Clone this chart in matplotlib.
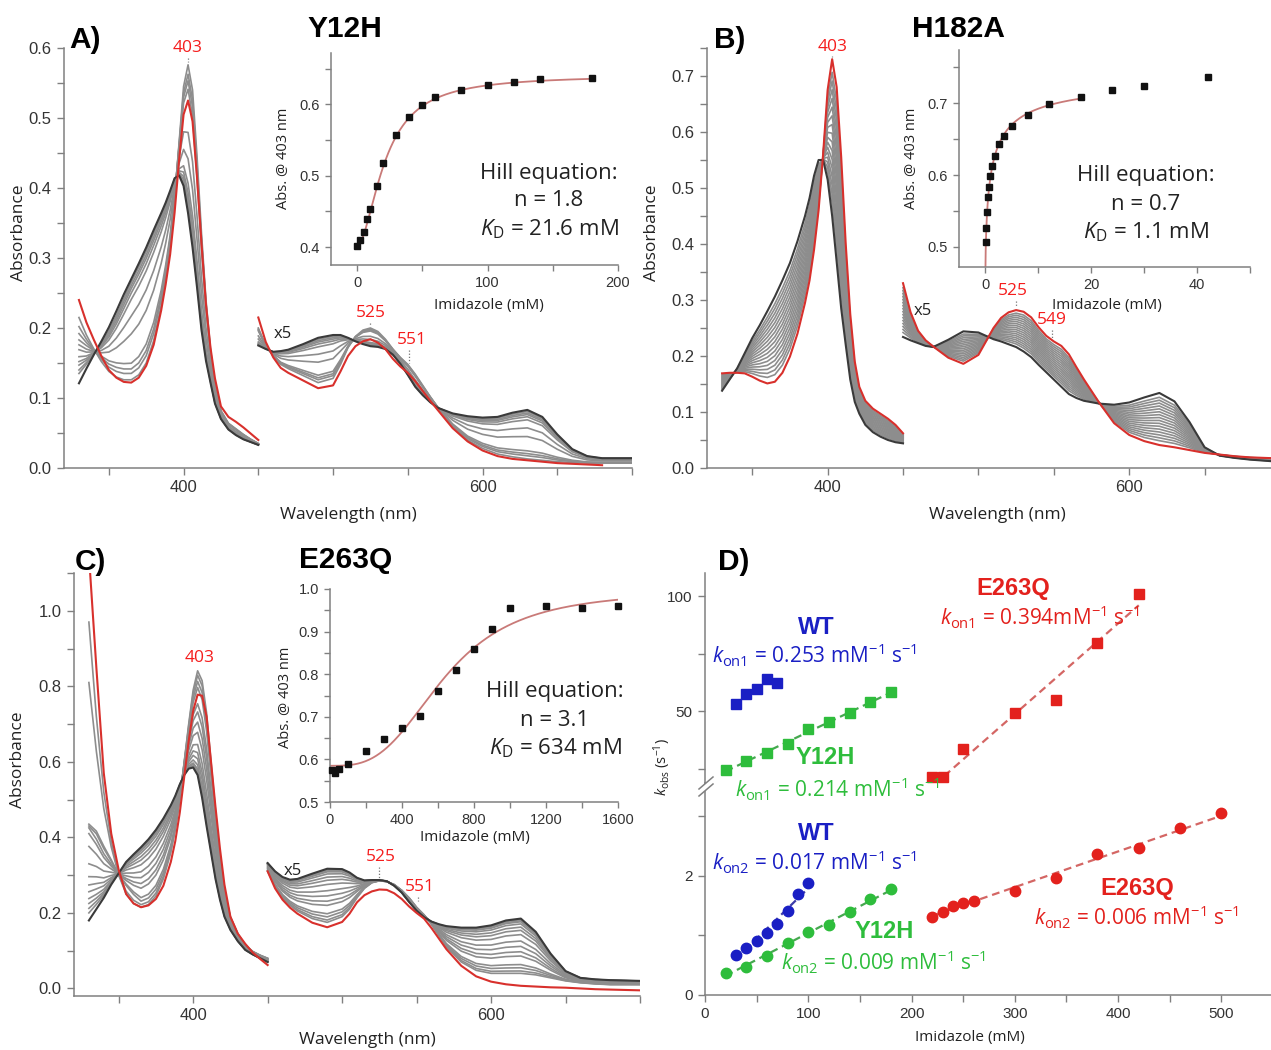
import numpy as np
import matplotlib
matplotlib.use("Agg")
import matplotlib.pyplot as plt
from matplotlib.ticker import MultipleLocator, FixedLocator, FormatStrFormatter
from matplotlib.lines import Line2D
from matplotlib.patches import Polygon

plt.rcParams.update({
    "font.family": ["Liberation Sans", "DejaVu Sans"],
    "mathtext.fontset": "custom",
    "mathtext.rm": "Open Sans",
    "mathtext.it": "Open Sans:italic",
    "mathtext.bf": "Open Sans:bold",
})
TXT_FONT = ["Open Sans", "DejaVu Sans"]
BOLD_FONT = ["Liberation Sans", "DejaVu Sans"]

# ------------------------------------------------------------------ spectra
wl_soret = [330, 335, 340, 345, 350, 355, 360, 365, 370, 375, 380, 385, 388, 391,
            394, 397, 400, 403, 406, 409, 412, 415, 418, 421, 425, 430, 435, 440, 445, 450]
wl_vis = [450, 455, 460, 465, 470, 480, 490, 500, 505, 510, 515, 520, 525, 530, 535,
          540, 545, 550, 555, 560, 565, 570, 580, 590, 600, 610, 620, 630, 640, 650,
          660, 670, 680, 690, 700]

# Y12H
A_black_soret = [0.121, 0.142, 0.162, 0.181, 0.201, 0.224, 0.248, 0.270, 0.292, 0.315,
                 0.340, 0.364, 0.379, 0.396, 0.414, 0.418, 0.403, 0.364, 0.315, 0.258,
                 0.197, 0.153, 0.122, 0.092, 0.070, 0.055, 0.047, 0.041, 0.037, 0.033]
A_top_soret = [0.215, 0.190, 0.170, 0.152, 0.138, 0.130, 0.126, 0.126, 0.133, 0.150,
               0.182, 0.232, 0.272, 0.320, 0.385, 0.465, 0.545, 0.576, 0.540, 0.445,
               0.335, 0.240, 0.170, 0.118, 0.082, 0.064, 0.056, 0.048, 0.041, 0.035]
A_red_soret = [0.240, 0.208, 0.183, 0.160, 0.140, 0.129, 0.123, 0.122, 0.129, 0.146,
               0.176, 0.225, 0.262, 0.305, 0.365, 0.440, 0.505, 0.525, 0.495, 0.415,
               0.320, 0.233, 0.172, 0.128, 0.088, 0.073, 0.066, 0.058, 0.049, 0.040]
A_black_vis = [0.175, 0.170, 0.166, 0.167, 0.169, 0.177, 0.186, 0.190, 0.190, 0.186,
               0.181, 0.177, 0.174, 0.173, 0.170, 0.162, 0.149, 0.133, 0.116, 0.104,
               0.094, 0.086, 0.078, 0.074, 0.072, 0.073, 0.079, 0.083, 0.073, 0.048,
               0.027, 0.017, 0.014, 0.014, 0.014]
A_top_vis = [0.200, 0.175, 0.160, 0.148, 0.142, 0.132, 0.122, 0.128, 0.148, 0.172,
             0.188, 0.197, 0.200, 0.195, 0.184, 0.170, 0.158, 0.148, 0.134, 0.118,
             0.102, 0.087, 0.060, 0.040, 0.028, 0.020, 0.016, 0.013, 0.011, 0.009,
             0.008, 0.007, 0.007, 0.007, 0.007]
A_red_vis = [0.215, 0.180, 0.158, 0.143, 0.136, 0.125, 0.114, 0.118, 0.138, 0.160,
             0.174, 0.181, 0.184, 0.179, 0.170, 0.156, 0.145, 0.136, 0.124, 0.110,
             0.096, 0.083, 0.057, 0.038, 0.025, 0.017, 0.013, 0.011, 0.009, 0.007,
             0.006, 0.005, 0.004, np.nan, np.nan]
A_gray_peaks = [0.423, 0.428, 0.433, 0.440, 0.450, 0.476, 0.504, 0.550, 0.559, 0.566, 0.576]
A_gray_330 = [0.135, 0.140, 0.147, 0.152, 0.159, 0.169, 0.176, 0.183, 0.192, 0.202, 0.215]

# H182A
B_black_soret = [0.138, 0.158, 0.178, 0.205, 0.232, 0.255, 0.280, 0.306, 0.335, 0.366,
                 0.405, 0.450, 0.482, 0.522, 0.550, 0.550, 0.515, 0.450, 0.368, 0.285,
                 0.220, 0.158, 0.118, 0.097, 0.077, 0.064, 0.056, 0.050, 0.046, 0.044]
B_red_soret = [0.169, 0.170, 0.170, 0.169, 0.163, 0.156, 0.151, 0.154, 0.170, 0.199,
               0.240, 0.295, 0.335, 0.390, 0.460, 0.560, 0.675, 0.730, 0.680, 0.555,
               0.400, 0.275, 0.190, 0.145, 0.120, 0.106, 0.097, 0.088, 0.077, 0.062]
B_black_vis = [0.234, 0.228, 0.223, 0.218, 0.216, 0.229, 0.244, 0.242, 0.236, 0.230,
               0.226, 0.221, 0.216, 0.208, 0.198, 0.184, 0.171, 0.158, 0.145, 0.132,
               0.125, 0.120, 0.115, 0.113, 0.117, 0.126, 0.134, 0.119, 0.082, 0.037,
               0.022, 0.018, 0.015, 0.013, 0.011]
B_red_vis = [0.330, 0.278, 0.245, 0.228, 0.217, 0.197, 0.186, 0.202, 0.226, 0.250,
             0.268, 0.278, 0.282, 0.279, 0.269, 0.251, 0.236, 0.226, 0.218, 0.203,
             0.180, 0.158, 0.117, 0.080, 0.059, 0.048, 0.041, 0.037, 0.032, 0.027,
             0.024, 0.021, 0.019, 0.018, 0.017]
B_gray_peaks = [0.565, 0.575, 0.585, 0.595, 0.605, 0.615, 0.625, 0.635, 0.645, 0.655,
                0.665, 0.675, 0.685, 0.695, 0.705, 0.715]

# E263Q
C_black_soret = [0.180, 0.210, 0.240, 0.275, 0.305, 0.335, 0.355, 0.374, 0.395, 0.420,
                 0.450, 0.485, 0.510, 0.540, 0.565, 0.582, 0.585, 0.565, 0.505, 0.430,
                 0.360, 0.290, 0.235, 0.190, 0.155, 0.125, 0.102, 0.090, 0.080, 0.070]
C_top_soret = [0.970, 0.720, 0.520, 0.390, 0.300, 0.250, 0.225, 0.215, 0.222, 0.245,
               0.290, 0.360, 0.420, 0.500, 0.600, 0.700, 0.790, 0.841, 0.815, 0.730,
               0.600, 0.470, 0.350, 0.260, 0.190, 0.145, 0.115, 0.098, 0.088, 0.080]
C_red_soret = [1.150, 0.850, 0.570, 0.410, 0.314, 0.250, 0.225, 0.215, 0.220, 0.237,
               0.272, 0.335, 0.390, 0.465, 0.560, 0.655, 0.735, 0.778, 0.775, 0.720,
               0.600, 0.480, 0.370, 0.275, 0.190, 0.145, 0.118, 0.095, 0.078, 0.062]
C_black_vis = [0.332, 0.310, 0.295, 0.288, 0.290, 0.304, 0.317, 0.316, 0.307, 0.293,
               0.286, 0.287, 0.287, 0.284, 0.272, 0.254, 0.229, 0.206, 0.189, 0.177,
               0.170, 0.165, 0.161, 0.161, 0.167, 0.180, 0.185, 0.150, 0.092, 0.046,
               0.028, 0.024, 0.022, 0.021, 0.020]
C_top_vis = [0.310, 0.270, 0.240, 0.220, 0.205, 0.185, 0.175, 0.190, 0.210, 0.240,
             0.265, 0.280, 0.285, 0.283, 0.275, 0.260, 0.240, 0.215, 0.195, 0.170,
             0.140, 0.110, 0.070, 0.048, 0.040, 0.040, 0.040, 0.036, 0.028, 0.020,
             0.015, 0.012, 0.010, 0.010, 0.010]
C_red_vis = [0.310, 0.265, 0.235, 0.214, 0.198, 0.174, 0.162, 0.176, 0.198, 0.228,
             0.247, 0.257, 0.262, 0.261, 0.252, 0.237, 0.217, 0.200, 0.185, 0.160,
             0.132, 0.104, 0.060, 0.032, 0.018, 0.011, 0.007, 0.005, 0.003, 0.002,
             0.000, -0.002, -0.003, -0.004, -0.005]
C_gray_peaks = [0.590, 0.595, 0.600, 0.610, 0.625, 0.640, 0.660, 0.690, 0.715, 0.740,
                0.760, 0.800, 0.815, 0.830, 0.841]
C_gray_330 = [0.200, 0.212, 0.225, 0.238, 0.256, 0.274, 0.296, 0.330, 0.376, 0.410,
              0.425, 0.430, 0.435, 0.810, 0.970]

# ------------------------------------------------------------------ titrations
imid_A = [0, 2.5, 5, 7.5, 10, 15, 20, 30, 40, 50, 60, 80, 100, 120, 140, 180]
abs_A = [0.401, 0.410, 0.421, 0.439, 0.453, 0.486, 0.518, 0.557, 0.582, 0.599,
         0.610, 0.620, 0.627, 0.632, 0.636, 0.637]
hill_A = dict(n=1.8, kd=21.6, a0=0.401, a1=0.641, xmax=180)

imid_B = [0.05, 0.15, 0.3, 0.55, 0.75, 0.95, 1.3, 1.8, 2.5, 3.5, 5, 8, 12, 18, 24, 30, 42]
abs_B = [0.507, 0.526, 0.548, 0.569, 0.584, 0.598, 0.612, 0.627, 0.643, 0.654,
         0.668, 0.683, 0.699, 0.708, 0.718, 0.724, 0.736]
hill_B = dict(n=0.7, kd=1.1, a0=0.469, a1=0.740, xmax=18)

imid_C = [10, 25, 50, 100, 200, 300, 400, 500, 600, 700, 800, 900, 1000, 1200, 1400, 1600]
abs_C = [0.576, 0.568, 0.578, 0.590, 0.620, 0.649, 0.673, 0.703, 0.760, 0.811,
         0.860, 0.905, 0.955, 0.959, 0.955, 0.959]
hill_C = dict(n=3.1, kd=634, a0=0.585, a1=0.997, xmax=1600)

# ------------------------------------------------------------------ kinetics
wt_kon1_x = [30, 40, 50, 60, 70]
wt_kon1_y = [52.9, 57.3, 59.7, 63.8, 62.2]
y12h_kon1_x = [20, 40, 60, 80, 100, 120, 140, 160, 180]
y12h_kon1_y = [24.3, 28.1, 31.9, 35.5, 42.0, 45.1, 49.0, 54.1, 58.1]
e263q_kon1_x = [220, 230, 250, 300, 340, 380, 420]
e263q_kon1_y = [21.4, 21.4, 33.6, 49.3, 54.6, 79.6, 100.9]
wt_kon2_x = [30, 40, 50, 60, 70, 80, 90, 100]
wt_kon2_y = [0.676, 0.789, 0.901, 1.042, 1.194, 1.420, 1.690, 1.887]
y12h_kon2_x = [20, 40, 60, 80, 100, 120, 140, 160, 180]
y12h_kon2_y = [0.377, 0.468, 0.659, 0.873, 1.059, 1.172, 1.392, 1.611, 1.775]
e263q_kon2_x = [220, 230, 240, 250, 260, 300, 340, 380, 420, 460, 500]
e263q_kon2_y = [1.313, 1.392, 1.504, 1.538, 1.577, 1.746, 1.972, 2.366, 2.468, 2.811, 3.054]
kon = {"wt1": 0.253, "y1": 0.214, "e1": 0.394, "wt2": 0.017, "y2": 0.009, "e2": 0.006}

# ------------------------------------------------------------------ style
W, H = 1271, 1050
GRAY = "#8d8d8d"
DARK = "#3a3a3a"
RED_LINE = "#d8302c"
RED_TXT = "#f51d1d"
SPINE = "#808080"
TICK_TXT = "#333333"
BLUE = "#1a1fc4"
GREEN = "#2ebd3c"
RED = "#e3211d"

fig = plt.figure(figsize=(W / 100, H / 100), dpi=100)


def px_axes(l, t, r, b):
    return fig.add_axes([l / W, 1 - b / H, (r - l) / W, (b - t) / H])


def ftext(x, y, s, **kw):
    kw.setdefault("ha", "center")
    kw.setdefault("va", "center")
    kw.setdefault("fontfamily", TXT_FONT)
    return fig.text(x / W, 1 - y / H, s, **kw)


def style(ax, size, major_len=5, minor_len=5, spines=("left", "bottom")):
    for s in ("top", "right", "left", "bottom"):
        ax.spines[s].set_visible(s in spines)
        ax.spines[s].set_color(SPINE)
        ax.spines[s].set_linewidth(1.1)
    ax.tick_params(which="both", direction="out", color=SPINE, width=1.0,
                   labelcolor=TICK_TXT, labelsize=size)
    ax.tick_params(which="major", length=major_len, pad=4)
    ax.tick_params(which="minor", length=minor_len)
    ax.patch.set_visible(False)


def draw_spectra(ax, soret, vis, gray_peaks, gray_330=None):
    wl = np.asarray(wl_soret, float)
    bs, ts, rs = (np.asarray(a, float) for a in soret)
    bv, tv, rv = (np.asarray(a, float) for a in vis)
    band = wl >= 380                                   # Soret band maximum
    lo, hi = bs[band].max(), ts[band].max()
    uv_w = np.clip((365 - wl) / 35, 0, 1)               # weight of the 330 nm reading
    if gray_330 is None:
        gray_330 = [None] * len(gray_peaks)
    for h, u in zip(gray_peaks, gray_330):
        f = (h - lo) / (hi - lo)
        g = f if u is None else (u - bs[0]) / (ts[0] - bs[0])
        frac = f + (g - f) * uv_w
        ax.plot(wl, bs + frac * (ts - bs), color=GRAY, lw=1.2, zorder=2)
        ax.plot(wl_vis, bv + f * (tv - bv), color=GRAY, lw=1.2, zorder=2)
    ax.plot(wl, bs, color=DARK, lw=1.5, zorder=3)
    ax.plot(wl_vis, bv, color=DARK, lw=1.5, zorder=3)
    ax.plot(wl, rs, color=RED_LINE, lw=1.5, zorder=4)
    ax.plot(wl_vis, rv, color=RED_LINE, lw=1.5, zorder=4)


def spectra_panel(box, ylim, ymajor, yminor, soret, vis, peaks, marks, x5, uv=None):
    ax = px_axes(*box)
    draw_spectra(ax, soret, vis, peaks, uv)
    ax.set_xlim(320, 700)
    ax.set_ylim(*ylim)
    ax.xaxis.set_major_locator(FixedLocator([400, 600]))
    ax.xaxis.set_minor_locator(MultipleLocator(50))
    ax.yaxis.set_major_locator(MultipleLocator(ymajor))
    ax.yaxis.set_minor_locator(MultipleLocator(yminor))
    ax.yaxis.set_major_formatter(FormatStrFormatter("%.1f"))
    style(ax, 12)
    ppu = (box[3] - box[1]) / (ylim[1] - ylim[0])   # pixels per absorbance unit
    for txt, xt, xl, yt, yp in marks:
        ax.text(xt, yt, txt, color=RED_TXT, fontsize=12.5, ha="center", va="center",
                fontfamily=TXT_FONT, clip_on=False, zorder=6)
        ax.plot([xl, xl], [yt - 10 / ppu, yp], ls=(0, (1, 1.5)), color="#777777",
                lw=0.9, clip_on=False, zorder=5)
    ax.text(x5[0], x5[1], "x5", color="#222222", fontsize=12, ha="center",
            va="center", fontfamily=TXT_FONT, zorder=6)
    return ax


def hill(p, x):
    x = np.asarray(x, float)
    return p["a0"] + (p["a1"] - p["a0"]) * x ** p["n"] / (p["kd"] ** p["n"] + x ** p["n"])


def inset_panel(box, x, y, p, xlim, ylim, xmaj, xmin, ymaj, ymin, xfmt, yfmt):
    ax = px_axes(*box)
    xf = np.linspace(0, p["xmax"], 400)
    ax.plot(xf, hill(p, xf), color="#c97a78", lw=1.3, zorder=2)
    ax.plot(x, y, ls="none", marker="s", ms=4.2, color="#111111", zorder=3, clip_on=False)
    ax.set_xlim(*xlim)
    ax.set_ylim(*ylim)
    ax.xaxis.set_major_locator(MultipleLocator(xmaj))
    ax.xaxis.set_minor_locator(MultipleLocator(xmin))
    ax.yaxis.set_major_locator(MultipleLocator(ymaj))
    ax.yaxis.set_minor_locator(MultipleLocator(ymin))
    ax.xaxis.set_major_formatter(FormatStrFormatter(xfmt))
    ax.yaxis.set_major_formatter(FormatStrFormatter(yfmt))
    style(ax, 10.5, 4, 4)
    return ax


# ------------------------------------------------------------------ panel A
spectra_panel((64, 48, 632, 468), (0, 0.6), 0.1, 0.05,
              (A_black_soret, A_top_soret, A_red_soret),
              (A_black_vis, A_top_vis, A_red_vis), A_gray_peaks,
              [("403", 403, 403, 0.600, 0.580), ("525", 525, 525, 0.221, 0.203),
               ("551", 553, 551, 0.183, 0.150)], (466.5, 0.191), A_gray_330)
inset_panel((331, 53, 618, 265), imid_A, abs_A, hill_A, (-20, 200), (0.375, 0.672),
            100, 50, 0.1, 0.05, "%d", "%.1f")

# ------------------------------------------------------------------ panel B
spectra_panel((707, 48, 1280, 468), (0, 0.75), 0.1, 0.05,
              (B_black_soret, B_red_soret, B_red_soret),
              (B_black_vis, B_red_vis, B_red_vis), B_gray_peaks,
              [("403", 403.5, 403, 0.752, 0.735), ("525", 523, 525, 0.316, 0.290),
               ("549", 549, 549, 0.264, 0.232)], (463, 0.280))
inset_panel((959, 50, 1250, 267), imid_B, abs_B, hill_B, (-5, 50), (0.472, 0.774),
            20, 10, 0.1, 0.05, "%d", "%.1f")

# ------------------------------------------------------------------ panel C
spectra_panel((74, 573, 640, 996), (-0.02, 1.1), 0.2, 0.1,
              (C_black_soret, C_top_soret, C_red_soret),
              (C_black_vis, C_top_vis, C_red_vis), C_gray_peaks,
              [("403", 404.5, 404, 0.875, 0.848), ("525", 526, 525, 0.348, 0.292),
               ("551", 552, 551, 0.269, 0.232)], (467, 0.311), C_gray_330)
inset_panel((330, 589, 618, 802), imid_C, abs_C, hill_C, (0, 1600), (0.5, 1.0),
            400, 200, 0.1, 0.05, "%d", "%.1f")

# ------------------------------------------------------------------ panel D
ax_up = px_axes(705, 573, 1271, 783)
ax_lo = px_axes(705, 783, 1271, 995)
for ax in (ax_up, ax_lo):
    ax.set_xlim(0, 548)
ax_up.set_ylim(18.7, 110)
ax_lo.set_ylim(0, 3.563)

sq = dict(ls="none", marker="s", ms=7, zorder=4, clip_on=False)
ci = dict(ls="none", marker="o", ms=7.5, zorder=4, clip_on=False)
dash = dict(ls=(0, (3.5, 2.2)), lw=1.6, zorder=3)


def fixed_slope_fit(x, y, k):
    x = np.asarray(x, float)
    y = np.asarray(y, float)
    b = y.mean() - k * x.mean()
    return lambda t: b + k * np.asarray(t, float)


# upper part: k_on1
ax_up.plot(wt_kon1_x, wt_kon1_y, color=BLUE, **sq)
fy = fixed_slope_fit(y12h_kon1_x, y12h_kon1_y, kon["y1"])
ax_up.plot([y12h_kon1_x[0], y12h_kon1_x[-1]], fy([y12h_kon1_x[0], y12h_kon1_x[-1]]),
           color="#45a84f", **dash)
ax_up.plot(y12h_kon1_x, y12h_kon1_y, color=GREEN, **sq)
fe = fixed_slope_fit(e263q_kon1_x[1:], e263q_kon1_y[1:], kon["e1"])
ax_up.plot([e263q_kon1_x[0], e263q_kon1_x[1], e263q_kon1_x[-1]],
           [e263q_kon1_y[0], fe(e263q_kon1_x[1]), fe(e263q_kon1_x[-1])],
           color="#d46664", **dash)
ax_up.plot(e263q_kon1_x, e263q_kon1_y, color=RED, **sq)

# lower part: k_on2
for xs, ys, k, lc, mc in ((wt_kon2_x, wt_kon2_y, kon["wt2"], "#3c3ca8", BLUE),
                          (y12h_kon2_x, y12h_kon2_y, kon["y2"], "#45a84f", GREEN),
                          (e263q_kon2_x, e263q_kon2_y, kon["e2"], "#d46664", RED)):
    f = fixed_slope_fit(xs, ys, k)
    ax_lo.plot([xs[0], xs[-1]], f([xs[0], xs[-1]]), color=lc, **dash)
    ax_lo.plot(xs, ys, color=mc, **ci)

style(ax_up, 11, 5, 5, spines=("left",))
style(ax_lo, 11, 5, 5, spines=("left", "bottom"))
ax_up.tick_params(axis="x", which="both", bottom=False, labelbottom=False)
ax_up.yaxis.set_major_locator(FixedLocator([50, 100]))
ax_up.yaxis.set_minor_locator(FixedLocator([25, 75]))
ax_lo.yaxis.set_major_locator(FixedLocator([0, 2]))
ax_lo.yaxis.set_minor_locator(FixedLocator([1, 3]))
ax_lo.xaxis.set_major_locator(MultipleLocator(100))
ax_lo.xaxis.set_minor_locator(MultipleLocator(50))

# axis break on the left spine
brk = Polygon([((699) / W, 1 - 789 / H), ((713) / W, 1 - 777 / H),
               ((713) / W, 1 - 784 / H), ((699) / W, 1 - 796 / H)],
              closed=True, transform=fig.transFigure, facecolor="white",
              edgecolor="none", zorder=10)
fig.add_artist(brk)
for dy in (0, 7):
    fig.add_artist(Line2D([699 / W, 713 / W], [1 - (789 + dy) / H, 1 - (777 + dy) / H],
                          transform=fig.transFigure, color=SPINE, lw=1.1, zorder=11))

# ------------------------------------------------------------------ labels
for x, y, s in ((85, 40, "A)"), (345, 29, "Y12H"), (730, 40, "B)"), (958, 29, "H182A"),
                (90, 562, "C)"), (346, 560, "E263Q"), (734, 562, "D)")):
    ftext(x, y, s, fontsize=21.5, fontweight="bold", fontfamily=BOLD_FONT)

for x, y in ((19, 233), (652, 233), (18, 760)):
    ftext(x, y, "Absorbance", fontsize=12.5, rotation=90, color="#222222")
for x, y in ((348, 515), (997, 515), (367, 1040)):
    ftext(x, y, "Wavelength (nm)", fontsize=12.5, color="#222222")

for x, y in ((284, 158), (912, 158), (286, 697)):
    ftext(x, y, "Abs. @ 403 nm", fontsize=10.5, rotation=90, color="#222222")
for x, y in ((489, 306), (1107, 306), (475, 837)):
    ftext(x, y, "Imidazole (mM)", fontsize=11, color="#222222")

for cx, ys, n, kd in ((549, (173, 201, 229), "1.8", "21.6"),
                      (1146, (176, 204, 232), "0.7", "1.1"),
                      (555, (692, 720, 748), "3.1", "634")):
    ftext(cx, ys[0], "Hill equation:", fontsize=16, color="#222222")
    ftext(cx, ys[1], "n = " + n, fontsize=16, color="#222222")
    ftext(cx, ys[2], r"$K_{\mathrm{D}}$ = " + kd + " mM", fontsize=16, color="#222222")

ftext(662, 767, r"$k_{\mathrm{obs}}$ (s$^{\mathrm{-1}}$)", fontsize=10.5, rotation=90,
      color="#222222")
ftext(970, 1038, "Imidazole (mM)", fontsize=11, color="#222222")


def kon_label(x, y, idx, val, color, gap=" "):
    s = (r"$k_{\mathrm{on" + idx + r"}}$ = " + val + gap + r"mM$^{\mathrm{-1}}$ s$^{\mathrm{-1}}$")
    ftext(x, y, s, fontsize=15, color=color)


def name_label(x, y, s, color):
    ftext(x, y, s, fontsize=17, fontweight="bold", fontfamily=BOLD_FONT, color=color)


name_label(1013, 588, "E263Q", RED)
kon_label(1040, 617, "1", "0.394", RED, gap="")
name_label(816, 627, "WT", BLUE)
kon_label(815, 655, "1", "0.253", BLUE)
name_label(825, 758, "Y12H", GREEN)
kon_label(838, 789, "1", "0.214", GREEN)
name_label(816, 833, "WT", BLUE)
kon_label(815, 862, "2", "0.017", BLUE)
name_label(1137, 888, "E263Q", RED)
kon_label(1137, 917, "2", "0.006", RED)
name_label(884, 932, "Y12H", GREEN)
kon_label(884, 962, "2", "0.009", GREEN)

fig.savefig("out.png", dpi=100, facecolor="white")
